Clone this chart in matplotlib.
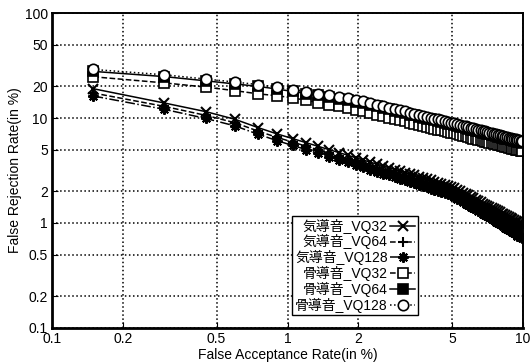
import matplotlib
matplotlib.use('Agg')
import matplotlib.pyplot as plt

plt.rcParams['font.family'] = ['Liberation Sans', 'Noto Sans CJK JP', 'DejaVu Sans']

######### data
far = [0.15, 0.30, 0.45, 0.60, 0.75, 0.90, 1.05, 1.20, 1.35, 1.50, 1.65, 1.80, 1.95,
       2.10, 2.25, 2.40, 2.55, 2.70, 2.85, 3.00, 3.15, 3.30, 3.45, 3.60, 3.75, 3.90,
       4.05, 4.20, 4.35, 4.50, 4.65, 4.80, 4.95, 5.10, 5.25, 5.40, 5.55, 5.70, 5.85,
       6.00, 6.15, 6.30, 6.45, 6.60, 6.75, 6.90, 7.05, 7.20, 7.35, 7.50, 7.65, 7.80,
       7.95, 8.10, 8.25, 8.40, 8.55, 8.70, 8.85, 9.00, 9.15, 9.30, 9.45, 9.60, 9.75, 9.90]

air_vq32 = [19.0, 13.9, 11.5, 9.7, 8.1, 7.07, 6.37, 5.82, 5.37, 5.00, 4.69, 4.42, 4.18,
            3.97, 3.79, 3.63, 3.49, 3.35, 3.23, 3.12, 3.02, 2.93, 2.84, 2.75, 2.68, 2.61,
            2.55, 2.48, 2.42, 2.37, 2.32, 2.27, 2.22, 2.15, 2.07, 2.01, 1.94, 1.88, 1.83,
            1.77, 1.72, 1.67, 1.62, 1.58, 1.53, 1.50, 1.46, 1.43, 1.38, 1.35, 1.32, 1.30,
            1.26, 1.23, 1.21, 1.18, 1.16, 1.13, 1.11, 1.09, 1.07, 1.05, 1.03, 1.00, 0.99, 0.97]

air_vq64 = [17.3, 12.9, 10.6, 9.0, 7.5, 6.55, 5.90, 5.39, 4.97, 4.63, 4.34, 4.09, 3.87,
            3.68, 3.51, 3.36, 3.23, 3.10, 2.99, 2.89, 2.80, 2.71, 2.63, 2.55, 2.48, 2.42,
            2.36, 2.30, 2.24, 2.19, 2.15, 2.10, 2.06, 1.99, 1.92, 1.86, 1.80, 1.74, 1.69,
            1.64, 1.59, 1.55, 1.50, 1.46, 1.42, 1.39, 1.35, 1.32, 1.28, 1.25, 1.22, 1.20,
            1.17, 1.14, 1.12, 1.09, 1.07, 1.05, 1.03, 1.01, 0.99, 0.97, 0.95, 0.93, 0.92, 0.90]

air_vq128 = [16.2, 12.1, 9.9, 8.4, 7.0, 6.1, 5.48, 5.00, 4.60, 4.28, 4.00, 3.77, 3.56,
             3.38, 3.22, 3.08, 2.96, 2.84, 2.73, 2.63, 2.55, 2.46, 2.38, 2.31, 2.24, 2.18,
             2.12, 2.06, 2.01, 1.96, 1.91, 1.87, 1.83, 1.76, 1.70, 1.64, 1.58, 1.53, 1.48,
             1.43, 1.39, 1.35, 1.30, 1.26, 1.23, 1.19, 1.16, 1.13, 1.09, 1.06, 1.03, 1.01,
             0.98, 0.95, 0.93, 0.90, 0.88, 0.86, 0.84, 0.82, 0.80, 0.78, 0.76, 0.75, 0.73, 0.72]

bone_vq32 = [24.7, 21.6, 19.7, 18.2, 17.0, 16.3, 15.58, 14.73, 14.03, 13.42, 12.90, 12.44, 12.03,
             11.59, 11.16, 10.77, 10.42, 10.09, 9.80, 9.53, 9.28, 9.04, 8.83, 8.62, 8.43, 8.25,
             8.08, 7.92, 7.77, 7.63, 7.49, 7.36, 7.24, 7.12, 7.00, 6.88, 6.77, 6.67, 6.57,
             6.47, 6.38, 6.29, 6.20, 6.12, 6.04, 5.96, 5.89, 5.82, 5.75, 5.68, 5.61, 5.55,
             5.49, 5.43, 5.37, 5.32, 5.26, 5.21, 5.16, 5.10, 5.06, 5.01, 4.96, 4.92, 4.87, 4.83]

bone_vq64 = [27.8, 24.8, 22.6, 21.1, 20.0, 18.9, 17.9, 17.1, 16.4, 15.8, 15.2, 14.8, 14.3,
             13.8, 13.3, 12.9, 12.5, 12.1, 11.7, 11.4, 11.1, 10.8, 10.6, 10.3, 10.1, 9.89,
             9.69, 9.49, 9.32, 9.15, 8.99, 8.83, 8.69, 8.54, 8.40, 8.26, 8.13, 8.01, 7.88,
             7.77, 7.65, 7.55, 7.44, 7.34, 7.25, 7.15, 7.07, 6.98, 6.89, 6.82, 6.74, 6.66,
             6.59, 6.52, 6.44, 6.37, 6.32, 6.25, 6.18, 6.12, 6.07, 6.01, 5.95, 5.90, 5.85, 5.80]

bone_vq128 = [29.0, 25.8, 23.5, 22.0, 20.8, 19.7, 18.67, 17.79, 17.05, 16.42, 15.87, 15.38, 14.94,
              14.41, 13.88, 13.40, 12.97, 12.57, 12.21, 11.88, 11.56, 11.28, 11.01, 10.76, 10.52, 10.30,
              10.09, 9.89, 9.71, 9.53, 9.36, 9.20, 9.05, 8.90, 8.75, 8.60, 8.47, 8.34, 8.21,
              8.09, 7.97, 7.86, 7.75, 7.65, 7.55, 7.45, 7.36, 7.27, 7.18, 7.10, 7.02, 6.94,
              6.86, 6.79, 6.71, 6.64, 6.58, 6.51, 6.44, 6.38, 6.32, 6.26, 6.20, 6.15, 6.09, 6.04]

labels = ['気導音_VQ32', '気導音_VQ64', '気導音_VQ128',
          '骨導音_VQ32', '骨導音_VQ64', '骨導音_VQ128']

x_ticks = [0.1, 0.2, 0.5, 1, 2, 5, 10]
x_ticklabels = ['0.1', '0.2', '0.5', '1', '2', '5', '10']
y_ticks = [0.1, 0.2, 0.5, 1, 2, 5, 10, 20, 50, 100]
y_ticklabels = ['0.1', '0.2', '0.5', '1', '2', '5', '10', '20', '50', '100']

######### plot
fig = plt.figure(figsize=(5.3, 3.62), dpi=100)
ax = fig.add_axes([0.098, 0.094, 0.889, 0.870])

series = [air_vq32, air_vq64, air_vq128, bone_vq32, bone_vq64, bone_vq128]
# (linestyle, marker, face colour, marker edge width)
styles = [('-', 'x', 'k', 1.5), ('--', '+', 'k', 1.5), ('-.', (8, 2, 0), 'k', 1.5),
          ('--', 's', 'w', 1.2), ('-', 's', 'k', 1.2), (':', 'o', 'w', 1.2)]

for ys, lab, (ls, mk, fc, mew) in zip(series, labels, styles):
    ax.plot(far, ys, linestyle=ls, marker=mk, color='k', markerfacecolor=fc,
            markersize=7.5, markeredgewidth=mew, linewidth=1.1, label=lab)

ax.set_xscale('log')
ax.set_yscale('log')
ax.set_xlim(0.1, 10)
ax.set_ylim(0.1, 100)
ax.set_xticks(x_ticks)
ax.set_xticklabels(x_ticklabels)
ax.set_yticks(y_ticks)
ax.set_yticklabels(y_ticklabels)
ax.minorticks_off()
ax.tick_params(direction='in', labelsize=10, length=4, pad=3)
ax.grid(True, which='major', color='k', linestyle=':', linewidth=1.1)
for sp in ax.spines.values():
    sp.set_linewidth(1.4)
ax.spines['left'].set_linewidth(2.0)
ax.spines['bottom'].set_linewidth(2.0)

ax.set_xlabel('False Acceptance Rate(in %)', fontsize=10, labelpad=1)
ax.set_ylabel('False Rejection Rate(in %)', fontsize=10, labelpad=2)

leg = ax.legend(loc='lower left', bbox_to_anchor=(0.51, 0.04), markerfirst=False,
                fontsize=10, handlelength=1.8, handletextpad=0.2, labelspacing=0.05,
                borderpad=0.2, borderaxespad=0, fancybox=False, framealpha=1,
                edgecolor='k')
leg.get_frame().set_linewidth(1.0)

fig.savefig('out.png', dpi=100)
